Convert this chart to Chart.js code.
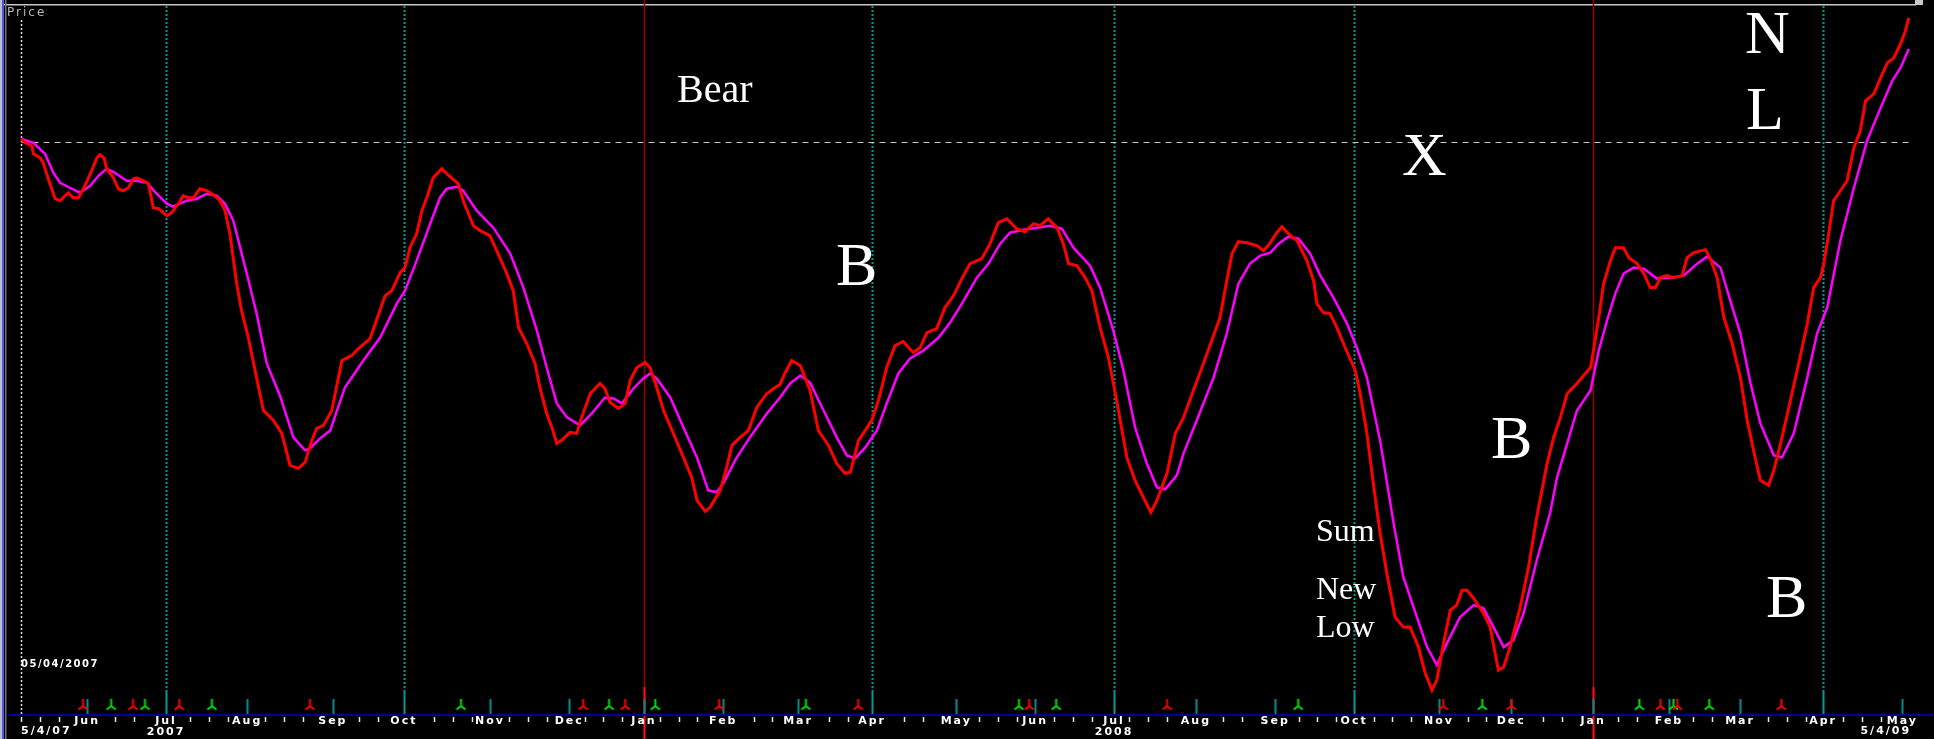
<!DOCTYPE html>
<html><head><meta charset="utf-8">
<script src="https://cdn.jsdelivr.net/npm/chart.js@4.4.1/dist/chart.umd.min.js"></script>
<style>html,body{margin:0;padding:0;background:#000;overflow:hidden}canvas{display:block}</style>
</head><body>
<canvas id="c" width="1934" height="739"></canvas>
<script>
// x values are trading-day numbers counted from 5/4/07
const redDays = [
0,1.1,2.9,3.3,5.1,5.9,7.7,9.1,10.4,11.7,
12.6,13.9,15.3,17.0,18.8,20.2,21.0,22.1,22.8,24.6,
25.9,27.2,28.6,29.9,30.8,32.6,33.9,35.2,36.6,38.8,
40.1,41.9,43.2,44.5,45.9,47.6,49.4,51.2,53.0,54.3,
55.6,57.4,58.7,60.5,62.3,64.5,67.2,69.4,71.6,73.8,
75.6,77.4,78.7,80.5,82.7,85.4,88.0,89.8,92.9,96.9,
98.7,100.9,102.2,103.5,105.3,106.7,108.0,109.7,112.0,113.3,
116.4,117.7,120.4,122.2,124.8,126.6,129.3,131.0,132.4,134.6,
136.8,138.1,139.9,141.3,142.6,143.9,146.1,147.9,149.2,151.5,
154.1,155.4,156.8,159.0,160.8,162.1,163.9,166.1,167.4,169.2,
171.0,173.6,176.3,178.5,179.9,182.1,183.4,186.1,187.8,189.2,
191.4,193.6,195.8,198.5,200.7,202.0,203.4,205.1,207.4,210.0,
212.2,214.9,217.1,219.3,220.7,222.9,224.7,226.4,228.2,230.4,
232.6,234.8,236.2,237.5,239.3,241.1,243.7,245.9,248.2,250.4,
252.6,255.7,257.9,260.1,262.4,265.0,267.2,269.5,271.2,273.4,
275.7,277.4,278.8,281.0,283.2,285.0,287.2,289.4,291.6,294.3,
296.5,298.7,300.7,302.3,305.0,307.2,309.4,312.0,314.3,316.9,
319.1,320.9,322.3,324.0,326.2,328.9,330.7,332.5,334.2,335.6,
337.3,339.6,342.2,344.0,344.9,346.6,348.4,350.2,352.4,355.1,
356.4,358.2,359.9,361.7,363.5,365.7,367.9,369.7,371.9,373.7,
375.5,376.8,378.6,380.4,382.1,383.5,384.8,386.6,389.2,391.0,
392.3,393.2,394.6,396.3,399.0,401.2,403.4,406.1,407.9,409.7,
411.5,414.1,415.9,417.7,418.5,419.9,421.2,423.0,424.3,426.5,
427.9,430.1,431.9,433.6,435.0,436.3,438.1,439.8,442.1,443.4,
445.2,448.3,449.6,451.4,453.2,455.4,457.6,459.4,461.1,462.9,
465.1,466.5,468.3,470.5,473.1,475.4,477.1,478.9,479.8,481.1,
482.4,484.2,486.0,487.8,489.5,490.9,493.1,494.9,496.7,498.4,
500.2,501.5,502.4];
const redValues = [
577,573,570,562,558,553,532,517,515,520,
523,518,518,530,545,558,561,558,547,538,
527,525,528,537,538,535,532,508,507,500,
503,512,520,518,518,527,525,521,515,505,
482,432,405,378,345,305,295,282,250,247,
253,275,287,290,305,355,360,367,377,420,
425,443,448,468,482,505,518,538,547,542,
532,515,490,485,480,465,442,425,388,372,
352,328,302,288,272,275,283,282,298,322,
332,327,313,307,312,335,348,353,348,328,
305,282,258,238,215,204,208,225,248,270,
278,285,308,322,328,331,343,355,350,325,
285,270,252,242,243,275,285,295,315,348,
370,374,368,363,368,383,387,408,420,437,
452,457,472,493,497,487,484,492,490,497,
488,472,452,450,438,425,388,358,315,258,
235,218,203,215,242,282,298,325,348,375,
398,435,462,474,473,470,465,473,483,489,
482,475,455,435,412,403,402,388,368,345,
322,282,232,182,142,98,88,88,68,42,
25,35,72,105,110,125,125,117,102,88,
62,45,48,68,108,148,198,251,278,298,
322,332,340,348,365,398,432,455,468,468,
458,452,442,428,428,438,440,438,440,458,
463,466,457,438,398,372,338,295,265,235,
230,245,272,308,352,392,428,438,452,482,
515,525,535,568,585,615,622,638,653,658,
672,685,698];
const magentaDays = [
0,3.3,6.4,8.6,10.4,13.0,15.7,18.4,20.6,22.8,
25.0,28.1,30.8,33.5,36.1,38.8,40.5,44.1,46.8,49.4,
52.1,54.3,56.5,60.1,62.7,65.4,68.9,72.5,75.6,76.9,
79.6,82.3,86.2,91.1,95.6,100.0,102.2,105.3,108.9,111.5,
113.3,116.0,117.7,121.3,125.7,130.2,133.7,137.3,139.9,142.6,
145.3,148.8,151.9,155.4,157.7,159.9,163.0,165.6,167.4,169.2,
172.8,176.3,179.9,182.9,185.2,186.9,190.5,194.0,198.5,202.0,
204.7,207.4,210.0,213.6,217.1,219.8,222.0,224.7,227.8,230.4,
233.5,236.6,240.2,244.2,247.3,250.4,254.4,257.5,260.6,263.2,
266.8,270.4,273.9,277.0,280.1,284.5,287.2,290.7,293.4,296.5,
299.6,302.3,304.5,307.6,309.4,312.9,317.4,320.9,324.0,327.1,
329.8,332.5,334.7,337.3,340.0,343.1,345.8,349.3,352.9,355.5,
358.2,361.7,365.3,367.9,371.5,374.2,376.8,379.5,383.0,386.6,
389.2,391.9,394.6,397.2,399.9,403.4,407.0,408.8,411.5,414.1,
417.7,419.9,422.1,424.3,426.5,429.2,431.9,435.4,439.0,442.5,
446.1,448.7,452.3,454.9,457.6,460.3,462.9,466.5,468.7,471.8,
475.4,478.0,480.7,484.2,487.8,491.3,494.9,498.0,500.2,502.4];
const magentaValues = [
577,573,562,543,533,528,523,530,540,547,
543,535,535,533,522,512,509,515,517,522,
520,512,495,442,402,352,320,278,265,267,
277,285,328,355,378,412,425,455,492,518,
527,529,525,505,488,462,428,385,348,312,
298,290,302,318,317,312,327,337,342,337,
318,288,258,225,223,232,258,278,302,318,
332,340,333,305,278,260,257,268,285,312,
342,357,365,378,393,412,438,452,472,483,
486,488,490,487,468,450,428,385,345,288,
252,228,226,240,262,295,338,382,432,452,
460,463,472,479,477,462,440,418,392,368,
338,275,192,138,98,68,50,72,98,110,
107,88,68,75,102,155,203,238,272,305,
325,365,395,422,442,448,447,437,438,440,
452,459,448,415,382,332,292,260,258,282,
338,382,408,475,528,575,608,635,648,667];
const sellSignalDays = [16.5,29.8,42.1,76.9,149.6,160.8,185.8,222.8,268.3,305.0,378.5,396.6,436.3,440.8,468.5];
const buySignalDays = [24.0,33.0,50.8,117.1,156.5,168.8,208.9,265.6,275.5,339.9,388.9,430.7,439.8,449.3];
const monthDays = [17.6,38.6,60.2,83.0,101.9,124.8,145.9,165.8,186.9,206.8,226.5,248.9,269.9,290.9,312.7,333.8,354.8,377.4,396.6,418.4,438.6,457.5,479.6,500.7];
const monthLabels = ['Jun','Jul','Aug','Sep','Oct','Nov','Dec','Jan','Feb','Mar','Apr','May','Jun','Jul','Aug','Sep','Oct','Nov','Dec','Jan','Feb','Mar','Apr','May'];
const yearLabels = {1:'2007', 13:'2008'};
const quarterMonths = ['Jul','Oct','Apr'];
const referenceLevel = 574;
const lastDay = 503;
const startLabel = '5/4/07', endLabel = '5/4/09', dateStamp = '05/04/2007', paneTitle = 'Price';

function signalGlyph(color){
  const cv = document.createElement('canvas'); cv.width = 11; cv.height = 12;
  const g = cv.getContext('2d'); g.strokeStyle = color; g.lineWidth = 2;
  g.beginPath(); g.moveTo(5.5,0); g.lineTo(5.5,7); g.moveTo(5.5,7); g.lineTo(1,10.5); g.moveTo(5.5,7); g.lineTo(10,10.5); g.stroke();
  return cv;
}
const MARK_LEVEL = 10;

const deco = {
  id:'deco',
  beforeDraw(chart){
    const {ctx, width, height} = chart;
    const xs = chart.scales.x, ys = chart.scales.y;
    const bottom = chart.chartArea.bottom;
    ctx.save();
    ctx.fillStyle = '#000'; ctx.fillRect(0,0,width,height);
    ctx.fillStyle = '#c8c8c8'; ctx.fillRect(0,4,1916,1.5);
    ctx.fillStyle = '#c0c0c0'; ctx.fillRect(0,0,2,height);
    ctx.fillStyle = '#5050ff'; ctx.fillRect(2,0,2,height);
    ctx.fillStyle = '#707070'; ctx.fillRect(5,0,1.5,height);
    ctx.fillStyle = '#c8c8c8'; ctx.fillRect(1915,0,8,5);
    monthDays.forEach((d,i)=>{
      const px = Math.round(xs.getPixelForValue(d)) + 0.5;
      const lab = monthLabels[i];
      if (lab === 'Jan') {
        ctx.strokeStyle = '#9a0000'; ctx.lineWidth = 1.5; ctx.setLineDash([]);
        ctx.beginPath(); ctx.moveTo(px,0); ctx.lineTo(px,height); ctx.stroke();
        ctx.strokeStyle = '#ff1010'; ctx.lineWidth = 2;
        ctx.beginPath(); ctx.moveTo(px,687); ctx.lineTo(px,height); ctx.stroke();
        ctx.strokeStyle = '#008c8c'; ctx.lineWidth = 2;
        ctx.beginPath(); ctx.moveTo(px,699); ctx.lineTo(px,bottom); ctx.stroke();
      } else if (quarterMonths.includes(lab)) {
        ctx.strokeStyle = '#009a9a'; ctx.lineWidth = 2; ctx.setLineDash([2,2]);
        ctx.beginPath(); ctx.moveTo(px,6); ctx.lineTo(px,692); ctx.stroke();
        ctx.setLineDash([]);
        ctx.beginPath(); ctx.moveTo(px,692); ctx.lineTo(px,bottom); ctx.stroke();
      } else {
        ctx.strokeStyle = '#008c8c'; ctx.lineWidth = 2; ctx.setLineDash([]);
        ctx.beginPath(); ctx.moveTo(px,699); ctx.lineTo(px,bottom); ctx.stroke();
      }
    });
    const x0 = Math.round(xs.getPixelForValue(0)) + 0.5;
    ctx.strokeStyle = '#e0e0e0'; ctx.lineWidth = 1.5; ctx.setLineDash([2,2]);
    ctx.beginPath(); ctx.moveTo(x0,20); ctx.lineTo(x0,bottom); ctx.stroke();
    const ry = Math.round(ys.getPixelForValue(referenceLevel)) + 0.5;
    ctx.strokeStyle = '#c8c8c8'; ctx.lineWidth = 1; ctx.setLineDash([6,5]);
    ctx.beginPath(); ctx.moveTo(x0,ry); ctx.lineTo(xs.getPixelForValue(502.5),ry); ctx.stroke();
    ctx.setLineDash([]);
    ctx.strokeStyle = '#e8e8e8'; ctx.lineWidth = 1.5;
    const monthPx = monthDays.map(d=>xs.getPixelForValue(d));
    for (let d = 0; d <= lastDay; d += 5) {
      const px = Math.round(xs.getPixelForValue(d)) + 0.5;
      if (d > 0 && monthPx.some(m => Math.abs(m - px) < 14)) continue;
      ctx.beginPath(); ctx.moveTo(px,bottom+2); ctx.lineTo(px,bottom+7); ctx.stroke();
    }
    ctx.fillStyle = '#000090'; ctx.fillRect(8,bottom-1,width-8,2);
    ctx.restore();
    ctx.letterSpacing = '2px';
  },
  beforeDatasetsDraw(chart){ chart.ctx.letterSpacing = '0px'; },
  afterDraw(chart){
    const ctx = chart.ctx;
    const xs = chart.scales.x;
    ctx.save();
    ctx.textBaseline = 'alphabetic';
    ctx.fillStyle = '#b8b8b8'; ctx.font = '12px "DejaVu Sans"'; ctx.letterSpacing = '2px';
    ctx.textAlign = 'left'; ctx.fillText(paneTitle, 7, 16);
    ctx.fillStyle = '#ffffff'; ctx.font = 'bold 10px "DejaVu Sans"'; ctx.letterSpacing = '1.5px';
    ctx.fillText(dateStamp, xs.getPixelForValue(0), 667);
    ctx.font = 'bold 11px "DejaVu Sans"'; ctx.letterSpacing = '2px';
    ctx.fillText(startLabel, xs.getPixelForValue(0), 734);
    ctx.textAlign = 'right';
    ctx.fillText(endLabel, xs.getPixelForValue(502.5) + 2, 734);
    ctx.letterSpacing = '0px';
    ctx.textAlign = 'left';
    ctx.fillStyle = '#ffffff';
    ctx.font = '40px "Liberation Serif"';
    ctx.fillText('Bear', 677, 102);
    ctx.font = '62px "Liberation Serif"';
    ctx.fillText('B', 836, 285);
    ctx.fillText('X', 1402, 175);
    ctx.fillText('N', 1745, 53);
    ctx.fillText('L', 1746, 129);
    ctx.fillText('B', 1491, 458);
    ctx.fillText('B', 1766, 617);
    ctx.font = '32px "Liberation Serif"';
    ctx.fillText('Sum', 1316, 541);
    ctx.fillText('New', 1316, 599);
    ctx.fillText('Low', 1316, 637);
    ctx.restore();
  }
};

const chart = new Chart(document.getElementById('c'), {
  type: 'line',
  data: {
    datasets: [
      { label:'Price', data: redDays.map((d,i)=>({x:d, y:redValues[i]})), borderColor:'#ff0000', borderWidth:3, pointRadius:0, tension:0, fill:false },
      { label:'Average', data: magentaDays.map((d,i)=>({x:d, y:magentaValues[i]})), borderColor:'#ff00ff', borderWidth:2.5, pointRadius:0, tension:0, fill:false },
      { label:'Sell', type:'scatter', showLine:false, data: sellSignalDays.map(d=>({x:d, y:MARK_LEVEL})), pointStyle: signalGlyph('#ff0000'), pointRadius:5 },
      { label:'Buy', type:'scatter', showLine:false, data: buySignalDays.map(d=>({x:d, y:MARK_LEVEL})), pointStyle: signalGlyph('#00e000'), pointRadius:5 }
    ]
  },
  options: {
    responsive:false, animation:false, devicePixelRatio:1, events:[],
    layout:{ padding:{ left:21, right:23, top:5, bottom:0 } },
    plugins:{ legend:{display:false}, tooltip:{enabled:false} },
    scales:{
      x:{
        type:'linear', min:0, max:lastDay, position:'bottom',
        grid:{ display:false, drawTicks:false },
        border:{ display:false },
        afterBuildTicks(scale){ scale.ticks = monthDays.map(v=>({value:v})); },
        afterFit(scale){ scale.height = 24; },
        ticks:{
          autoSkip:false, maxRotation:0, minRotation:0, padding:1,
          color:'#ffffff', font:{ family:'DejaVu Sans', size:11, weight:'bold', lineHeight:0.95 },
          callback(value, index){ return yearLabels[index] ? [monthLabels[index], yearLabels[index]] : monthLabels[index]; }
        }
      },
      y:{ type:'linear', min:0, max:710, display:false }
    }
  },
  plugins:[deco]
});
</script>
</body></html>
